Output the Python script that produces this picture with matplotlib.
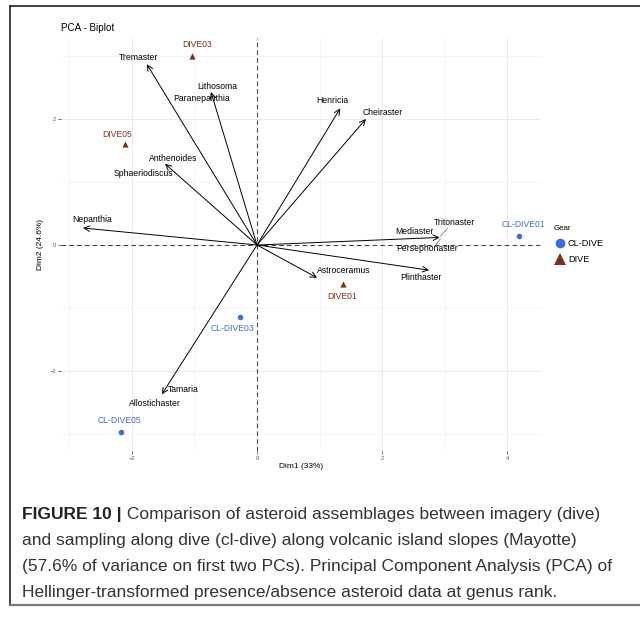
import numpy as np
import matplotlib.pyplot as plt
from matplotlib.lines import Line2D

plt.rcParams['font.family'] = ['Liberation Sans', 'DejaVu Sans']

# --------------------------------------------------
# PCA scores and loadings
# --------------------------------------------------

species = ["Tremaster", "Lithosoma", "Paranepanthia", "Anthenoides",
           "Sphaeriodiscus", "Nepanthia", "Henricia", "Cheiraster",
           "Tritonaster", "Mediaster", "Persephonaster", "Plinthaster",
           "Astroceramus", "Tamaria", "Allostichaster"]
load_x = [-1.76, -0.735, -0.735, -1.47, -1.47, -2.78, 1.33, 1.74,
          2.92, 2.92, 2.92, 2.75, 0.96, -1.52, -1.52]
load_y = [2.87, 2.43, 2.43, 1.29, 1.29, 0.27, 2.17, 2.00,
          0.12, 0.12, 0.12, -0.40, -0.52, -2.37, -2.37]
# repelled label positions
lab_x = [-1.90, -0.64, -0.88, -1.34, -1.81, -2.64, 1.20, 2.01,
         3.16, 2.51, 2.72, 2.62, 1.39, -1.18, -1.63]
lab_y = [2.98, 2.51, 2.32, 1.37, 1.13, 0.41, 2.29, 2.11,
         0.35, 0.21, -0.06, -0.51, -0.41, -2.30, -2.51]

samples = ["DIVE03", "DIVE05", "DIVE01", "CL-DIVE01", "CL-DIVE03", "CL-DIVE05"]
gear = ["DIVE", "DIVE", "DIVE", "CL-DIVE", "CL-DIVE", "CL-DIVE"]
pc1 = [-1.04, -2.11, 1.37, 4.19, -0.27, -2.17]
pc2 = [3.00, 1.60, -0.62, 0.14, -1.14, -2.97]
slab_x = [-0.96, -2.24, 1.36, 4.25, -0.40, -2.20]
slab_y = [3.19, 1.75, -0.81, 0.33, -1.32, -2.79]

gear_levels = ["CL-DIVE", "DIVE"]
gear_color = {"CL-DIVE": "#4169E1", "DIVE": "#7E2D1E"}
gear_marker = {"CL-DIVE": "o", "DIVE": "^"}

caption_bold = "FIGURE 10 |"
caption = [" Comparison of asteroid assemblages between imagery (dive)",
           "and sampling along dive (cl-dive) along volcanic island slopes (Mayotte)",
           "(57.6% of variance on first two PCs). Principal Component Analysis (PCA) of",
           "Hellinger-transformed presence/absence asteroid data at genus rank."]

W, H = 640, 617
fig = plt.figure(figsize=(W / 100, H / 100), dpi=100)


def fx(px):
    return px / W


def fy(py):
    return 1 - py / H


ax = fig.add_axes([fx(61), fy(451), fx(541) - fx(61), fy(38) - fy(451)])
ax.set_xlim(-3.131, 4.537)
ax.set_ylim(-3.270, 3.286)

for s in ax.spines.values():
    s.set_visible(False)

ax.set_xticks([-2, 0, 2, 4])
ax.set_yticks([-2, 0, 2])
ax.set_xticks([-3, -1, 1, 3], minor=True)
ax.set_yticks([-3, -1, 1, 3], minor=True)
ax.grid(True, which="major", color="#EBEBEB", lw=0.7)
ax.grid(True, which="minor", color="#F2F2F2", lw=0.5)
ax.set_axisbelow(True)
ax.tick_params(which="major", length=2.2, width=0.6, color="#555555",
               labelsize=4.2, labelcolor="#5A5A5A", pad=1.2)
ax.tick_params(which="minor", length=0)

ax.axhline(0, color="#444444", lw=0.8, ls=(0, (4, 3)), zorder=1)
ax.axvline(0, color="#444444", lw=0.8, ls=(0, (4, 3)), zorder=1)

# loadings: genera with identical loadings share one arrow
drawn = set()
for x, y in zip(load_x, load_y):
    if (x, y) in drawn:
        continue
    drawn.add((x, y))
    ax.annotate("", xy=(x, y), xytext=(0, 0),
                arrowprops=dict(arrowstyle="->,head_length=0.45,head_width=0.22",
                                lw=0.7, color="black", shrinkA=0, shrinkB=0,
                                mutation_scale=9), zorder=3)
for name, x, y in zip(species, lab_x, lab_y):
    ax.text(x, y, name, fontsize=6.2, ha="center", va="center", zorder=4)

# short leader lines from repelled labels
ax.plot([2.93, 3.04], [0.14, 0.26], color="#666666", lw=0.5)
ax.plot([2.86, 2.93], [0.00, 0.10], color="#666666", lw=0.5)

# samples
for name, g, x, y, lx, ly in zip(samples, gear, pc1, pc2, slab_x, slab_y):
    ax.scatter(x, y, s=16 if g == "CL-DIVE" else 20, marker=gear_marker[g],
               color=gear_color[g], lw=0, zorder=5)
    ax.text(lx, ly, name, fontsize=6.2, ha="center", va="center",
            color=gear_color[g], zorder=5)

ax.set_xlabel("Dim1 (33%)", fontsize=6, labelpad=2)
ax.set_ylabel("Dim2 (24.6%)", fontsize=6, labelpad=4)
fig.text(fx(61), fy(28), "PCA - Biplot", fontsize=7.1, va="center")

# legend
fig.text(fx(554), fy(229), "Gear", fontsize=5.7, va="center")
for i, g in enumerate(gear_levels):
    yy = 243 + 16 * i
    fig.add_artist(Line2D([fx(560)], [fy(yy)], marker=gear_marker[g],
                          markersize=7 if g == "CL-DIVE" else 9,
                          color=gear_color[g], lw=0, markeredgewidth=0))
    fig.text(fx(568), fy(yy), g, fontsize=6.6, va="center")

# frame around figure and caption
fig.add_artist(Line2D([fx(10), fx(10)], [fy(6), fy(605)], color="#222222", lw=1.2))
fig.add_artist(Line2D([fx(10), 1], [fy(6), fy(6)], color="#222222", lw=1.2))
fig.add_artist(Line2D([fx(10), 1], [fy(605), fy(605)], color="#777777", lw=1.6))

fig.canvas.draw()
r = fig.canvas.get_renderer()
line_y = [515, 541, 567, 592]
fs = 12.5
tb = fig.text(fx(22), fy(line_y[0]), caption_bold, fontsize=fs, weight="bold",
              va="center", color="#222222")
bw = tb.get_window_extent(r).width
fig.text(fx(22) + bw / W, fy(line_y[0]), caption[0], fontsize=fs,
         va="center", color="#333333")
for txt, yy in zip(caption[1:], line_y[1:]):
    fig.text(fx(22), fy(yy), txt, fontsize=fs, va="center", color="#333333")

fig.savefig("out.png", dpi=100)
